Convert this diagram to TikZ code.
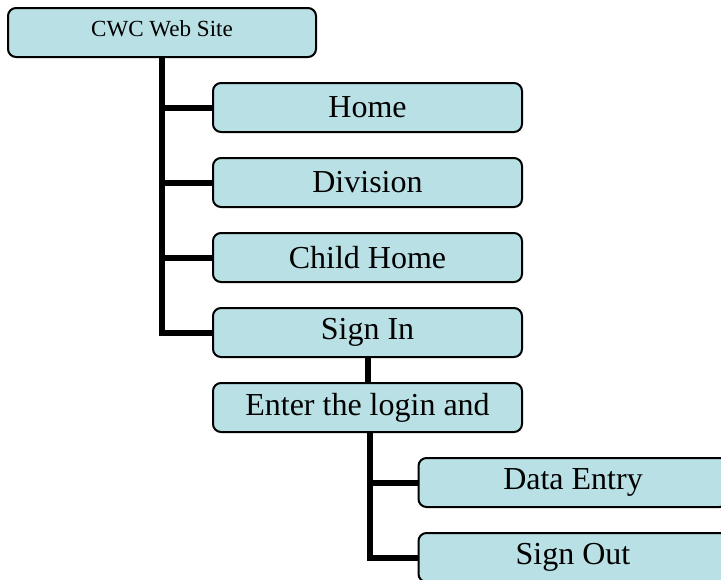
\documentclass[tikz,border=0pt]{standalone}
\usepackage{fontspec}
\setmainfont{Liberation Serif}
\definecolor{boxfill}{RGB}{185,224,228}
\begin{document}
\begin{tikzpicture}[x=0.75pt,y=-0.75pt,
  pagebox/.style={draw=black,line width=1.5pt,fill=boxfill,rounded corners=6pt,
    minimum width=231.75pt,minimum height=36.75pt,inner sep=0pt,font=\fontsize{24}{28}\selectfont},
  topbox/.style={pagebox,minimum width=231pt,font=\fontsize{17.3}{20}\selectfont},
  link/.style={draw=black,line width=4.5pt}]
\clip (0,0) rectangle (721,579);
\useasboundingbox (0,0) rectangle (721,579);
\node[topbox] (cwc) at (162,32.5) {\raisebox{6.5pt}{CWC Web Site}};
\node[pagebox] (home) at (367.5,107.5) {Home};
\node[pagebox] (div) at (367.5,182.5) {Division};
\node[pagebox] (child) at (367.5,257.5) {Child Home};
\node[pagebox] (sign) at (367.5,332.5) {Sign In};
\node[pagebox] (enter) at (367.5,407.5) {Enter the login and};
\node[pagebox] (data) at (573,482.5) {\raisebox{-1.5pt}{Data Entry}};
\node[pagebox] (out) at (573,557.5) {Sign Out};
\draw[link] (cwc.south) |- (sign.west);
\draw[link] (cwc.south |- home.west) -- (home.west);
\draw[link] (cwc.south |- div.west) -- (div.west);
\draw[link] (cwc.south |- child.west) -- (child.west);
\draw[link] (sign.south) -- (enter.north);
\draw[link] ([xshift=2pt]enter.south) |- (out.west);
\draw[link] ([xshift=2pt]enter.south |- data.west) -- (data.west);
\end{tikzpicture}
\end{document}
